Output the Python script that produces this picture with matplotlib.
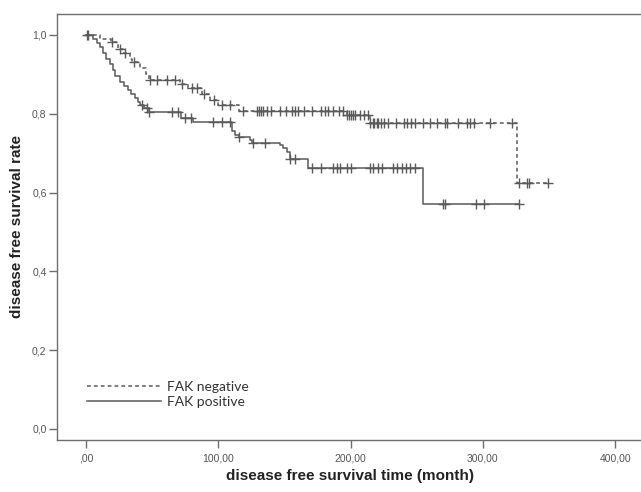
import numpy as np
import matplotlib
matplotlib.use("Agg")
import matplotlib.pyplot as plt

plt.rcParams["font.family"] = ["Liberation Sans", "DejaVu Sans"]

# FAK negative (dashed) - event times / survival after each step
neg_times = [0, 10.6, 19, 24, 28, 33, 35, 41, 45, 48, 71, 77, 88, 94, 100, 116, 197, 215, 326]
neg_surv = [1.0, 0.99, 0.982, 0.965, 0.955, 0.94, 0.93, 0.915, 0.90, 0.886, 0.876, 0.865, 0.85, 0.835, 0.822, 0.808, 0.797, 0.777, 0.625]
neg_censor = [1.5, 19.7, 26, 29.5, 36, 48.5, 54, 61, 67, 72.6, 80, 84, 89, 97, 103, 109, 119, 129,
              131, 132, 134, 137, 140, 147, 151, 156, 158, 160, 165, 171, 178, 181, 183, 187, 191, 194,
              197, 199, 200, 202, 203, 207, 210, 213, 215, 217, 218, 220, 221, 223, 225, 228, 234, 240,
              243, 246, 249, 255, 260, 265, 271, 273, 281, 288, 290, 293, 305, 322, 327, 333, 335, 349]

# FAK positive (solid)
pos_times = [0, 5.3, 8.3, 10.6, 13, 15, 18, 20.5, 22, 26, 29, 32, 34, 37, 39, 41, 44, 47.6, 72, 81,
             110, 113, 116, 124, 125.5, 147, 149, 152, 154, 168, 255]
pos_surv = [1.0, 0.99, 0.98, 0.97, 0.955, 0.94, 0.925, 0.91, 0.895, 0.88, 0.87, 0.86, 0.85, 0.84, 0.83,
            0.822, 0.815, 0.805, 0.79, 0.78, 0.755, 0.745, 0.74, 0.733, 0.726, 0.72, 0.713, 0.703, 0.685,
            0.662, 0.571]
pos_censor = [1, 42, 46, 48, 65, 69.6, 75, 79, 96, 103, 109, 116, 126, 135, 154.5, 158, 171, 178, 187,
              190, 192, 197, 200, 215, 217, 221, 224, 232, 235, 239, 242, 245, 249, 270, 271.5, 295, 301, 327]

xticks = [0, 100, 200, 300, 400]
xtick_labels = [",00", "100,00", "200,00", "300,00", "400,00"]
yticks = [0.0, 0.2, 0.4, 0.6, 0.8, 1.0]
ytick_labels = ["0,0", "0,2", "0,4", "0,6", "0,8", "1,0"]

line_col = "#5a5a5a"
axis_col = "#6e6e6e"

fig = plt.figure(figsize=(6.41, 4.92), dpi=100)
ax = fig.add_axes([57 / 641, 52 / 492, 586 / 641, 426 / 492])


def km_curve(times, surv, censor, end):
    t = list(times) + [end]
    s = list(surv) + [surv[-1]]
    idx = np.searchsorted(times, censor, side="right") - 1
    return t, s, np.array(surv)[idx]


t, s, cs = km_curve(neg_times, neg_surv, neg_censor, neg_censor[-1])
ax.plot(t, s, drawstyle="steps-post", color=line_col, lw=1.1, ls=(0, (2.5, 2)), label="FAK negative")
ax.plot(neg_censor, cs, ls="none", marker="+", ms=6.5, mew=1.0, color=line_col)

t, s, cs = km_curve(pos_times, pos_surv, pos_censor, pos_censor[-1])
ax.plot(t, s, drawstyle="steps-post", color=line_col, lw=1.1, label="FAK positive")
ax.plot(pos_censor, cs, ls="none", marker="+", ms=6.5, mew=1.0, color=line_col)

ax.set_xlim(-21.9, 421)
ax.set_ylim(-0.028, 1.053)
ax.set_xticks(xticks)
ax.set_xticklabels(xtick_labels)
ax.set_yticks(yticks)
ax.set_yticklabels(ytick_labels)
ax.tick_params(colors=axis_col, labelcolor="#555555", labelsize=7.5, length=6, width=1)
ax.tick_params(axis="y", pad=1.5)

for sp in ax.spines.values():
    sp.set_color(axis_col)
    sp.set_linewidth(1.0)

ax.set_xlabel("disease free survival time (month)", fontsize=11, fontweight="bold",
              color="#222222", labelpad=4)
ax.set_ylabel("disease free survival rate", fontsize=11, fontweight="bold",
              color="#222222", labelpad=6)

leg = ax.legend(loc="lower left", bbox_to_anchor=(0.052, 0.075), frameon=False,
                handlelength=5.3, handletextpad=0.45, labelspacing=0.2,
                borderpad=0, borderaxespad=0, prop={"family": "Lato", "size": 10})
for txt in leg.get_texts():
    txt.set_color("#333333")

fig.savefig("out.png", dpi=100)
